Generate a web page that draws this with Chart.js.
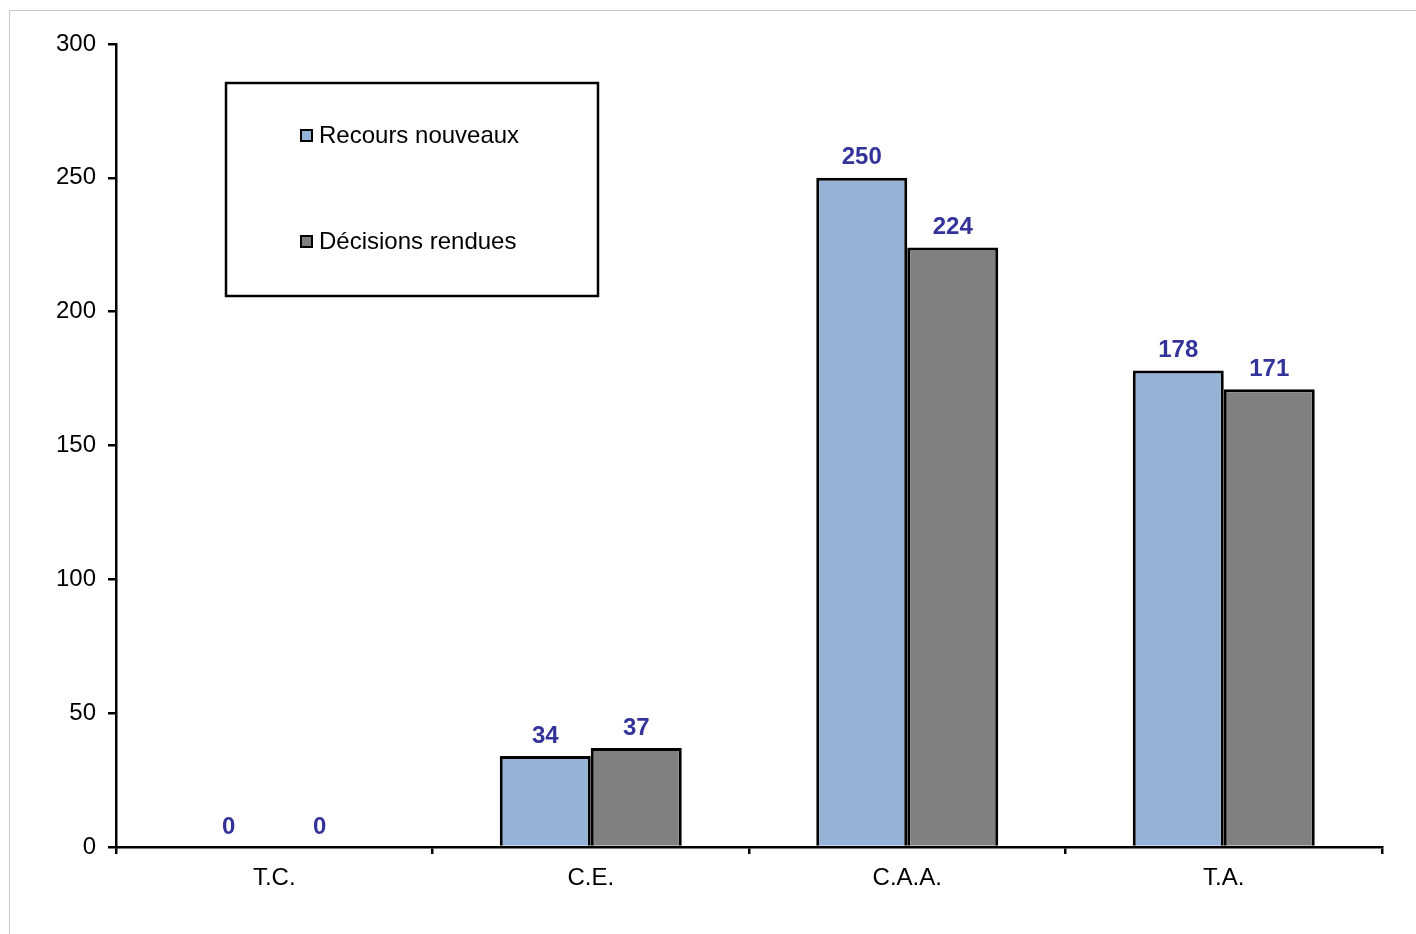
<!DOCTYPE html>
<html lang="fr">
<head>
<meta charset="UTF-8">
<title>Recours nouveaux / Décisions rendues</title>
<script src="https://cdn.jsdelivr.net/npm/chart.js@4.4.0/dist/chart.umd.min.js"></script>
<style>
  html, body { margin: 0; padding: 0; background: #fff; }
  #wrap { position: relative; width: 1416px; height: 934px; }
  #frame { position: absolute; left: 9px; top: 10px; right: 0; bottom: 0;
           border-left: 1px solid #c8c8c8; border-top: 1px solid #c8c8c8; }
  canvas { position: absolute; left: 0; top: 0; }
</style>
</head>
<body>
<div id="wrap">
  <div id="frame"></div>
  <canvas id="chart" width="1416" height="934"></canvas>
</div>
<script>
// Données
const categories = ['T.C.', 'C.E.', 'C.A.A.', 'T.A.'];
const recoursNouveaux = [0, 34, 250, 178];
const decisionsRendues = [0, 37, 224, 171];
const yTicks = [0, 50, 100, 150, 200, 250, 300];

const FONT = '"Liberation Sans", Arial, sans-serif';

// Étiquettes de valeurs au-dessus des barres
const valueLabels = {
  id: 'valueLabels',
  afterDatasetsDraw(chart) {
    const ctx = chart.ctx;
    ctx.save();
    ctx.font = 'bold 24px ' + FONT;
    ctx.fillStyle = '#333399';
    ctx.textAlign = 'center';
    ctx.textBaseline = 'middle';
    chart.data.datasets.forEach((ds, i) => {
      chart.getDatasetMeta(i).data.forEach((bar, j) => {
        ctx.fillText(String(ds.data[j]), bar.x, bar.y - 20);
      });
    });
    ctx.restore();
  }
};

// Légende encadrée dans la zone du graphique
const boxLegend = {
  id: 'boxLegend',
  afterDraw(chart) {
    const ctx = chart.ctx;
    ctx.save();
    ctx.strokeStyle = '#000';
    ctx.lineWidth = 2.5;
    ctx.strokeRect(226, 83, 372, 213);
    ctx.font = '24px ' + FONT;
    ctx.textBaseline = 'middle';
    ctx.textAlign = 'left';
    const rows = [135, 241];
    chart.data.datasets.forEach((ds, i) => {
      const y = rows[i];
      ctx.fillStyle = ds.backgroundColor;
      ctx.fillRect(301, y - 5, 11, 11);
      ctx.lineWidth = 2;
      ctx.strokeRect(301, y - 5, 11, 11);
      ctx.fillStyle = '#000';
      ctx.fillText(ds.label, 319, y + 1);
    });
    ctx.restore();
  }
};

new Chart(document.getElementById('chart'), {
  type: 'bar',
  data: {
    labels: categories,
    datasets: [
      {
        label: 'Recours nouveaux',
        data: recoursNouveaux,
        backgroundColor: '#95b3d7',
        borderColor: '#000',
        borderWidth: 3
      },
      {
        label: 'Décisions rendues',
        data: decisionsRendues,
        backgroundColor: '#808080',
        borderColor: '#000',
        borderWidth: 3
      }
    ]
  },
  options: {
    responsive: false,
    animation: false,
    layout: { padding: { left: 0, top: 44, right: 34, bottom: 0 } },
    datasets: { bar: { categoryPercentage: 0.575, barPercentage: 1.0 } },
    plugins: {
      legend: { display: false },
      tooltip: { enabled: false }
    },
    scales: {
      x: {
        grid: {
          offset: true,
          drawOnChartArea: false,
          drawTicks: true,
          tickLength: 7,
          color: '#000',
          lineWidth: 2.5
        },
        border: { color: '#000', width: 2.5 },
        ticks: { color: '#000', font: { family: FONT, size: 24 }, padding: 10 },
        afterFit(scale) { scale.height = 87; }
      },
      y: {
        min: 0,
        max: 300,
        afterBuildTicks(scale) { scale.ticks = yTicks.map(v => ({ value: v })); },
        grid: {
          drawOnChartArea: false,
          drawTicks: true,
          tickLength: 8,
          color: '#000',
          lineWidth: 2.5
        },
        border: { color: '#000', width: 2.5 },
        ticks: { color: '#000', font: { family: FONT, size: 24 }, padding: 12 },
        afterFit(scale) { scale.width = 116; }
      }
    }
  },
  plugins: [valueLabels, boxLegend]
});
</script>
</body>
</html>
